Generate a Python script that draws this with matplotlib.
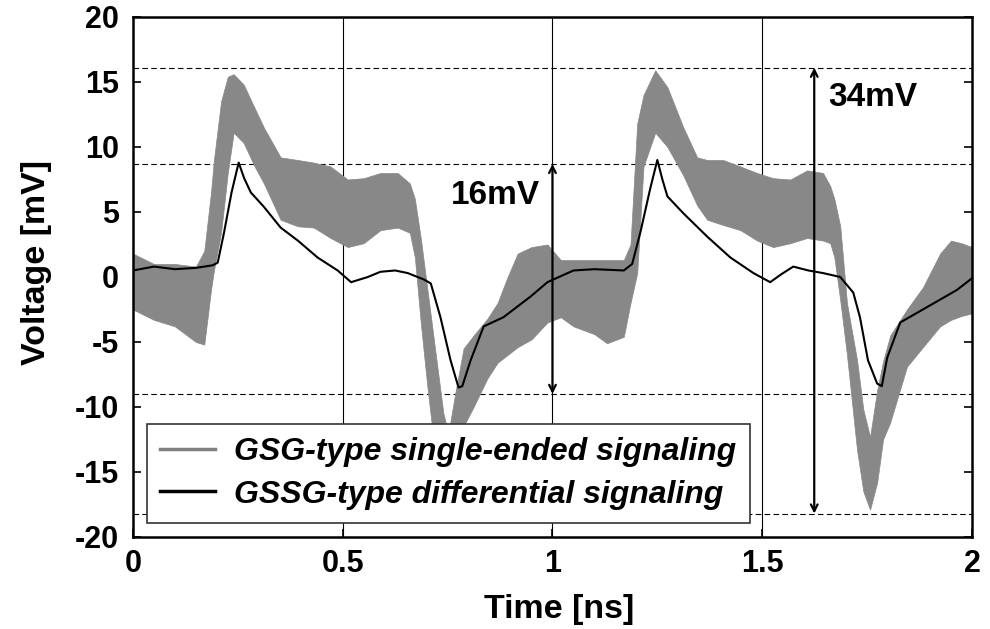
import matplotlib
matplotlib.use("Agg")
import matplotlib.pyplot as plt
from matplotlib.lines import Line2D
import numpy as np

plt.rcParams['font.family'] = ['Liberation Sans', 'DejaVu Sans']
plt.rcParams['font.weight'] = 'bold'
plt.rcParams['axes.unicode_minus'] = False

# GSG-type single-ended signaling: envelope of the ringing band (mV)
t_gsg = [0.000, 0.050, 0.100, 0.150, 0.170, 0.186, 0.193, 0.210, 0.226, 0.240,
         0.264, 0.290, 0.312, 0.352, 0.393, 0.431, 0.471, 0.512, 0.550, 0.590,
         0.631, 0.660, 0.672, 0.686, 0.702, 0.720, 0.740, 0.752, 0.768, 0.788,
         0.812, 0.845, 0.869, 0.893, 0.917, 0.950, 0.988, 1.020, 1.050, 1.100,
         1.130, 1.170, 1.186, 1.202, 1.217, 1.245, 1.274, 1.312, 1.345, 1.369,
         1.407, 1.448, 1.488, 1.526, 1.567, 1.607, 1.645, 1.662, 1.672, 1.686,
         1.702, 1.726, 1.741, 1.757, 1.774, 1.788, 1.805, 1.845, 1.883, 1.924,
         1.950, 1.975, 2.000]
gsg_upper = [1.8, 1.0, 1.0, 0.8, 2.0, 6.5, 9.0, 13.5, 15.4, 15.6,
             14.8, 13.0, 11.5, 9.2, 9.0, 8.8, 8.5, 7.5, 7.6, 8.0,
             8.0, 7.2, 6.0, 3.0, -1.0, -5.5, -10.5, -12.0, -9.0, -5.5,
             -4.5, -3.2, -2.0, 0.0, 1.8, 2.3, 2.5, 1.3, 1.3, 1.3,
             1.3, 1.3, 2.5, 11.8, 14.0, 15.9, 14.6, 11.5, 9.2, 9.0,
             9.0, 8.5, 8.0, 7.6, 7.5, 8.2, 8.0, 7.0, 6.0, 3.9,
             -2.0, -6.4, -10.2, -12.3, -8.7, -6.5, -4.5, -2.5, -0.8, 1.8,
             2.8, 2.6, 2.3]
gsg_lower = [-2.5, -3.3, -3.8, -5.0, -5.2, -1.0, 0.5, 3.4, 8.0, 11.1,
             10.3, 8.5, 7.2, 4.4, 3.9, 3.8, 3.0, 2.3, 2.6, 3.6,
             3.8, 3.4, 1.5, -3.5, -8.5, -13.5, -17.5, -17.8, -15.5, -11.5,
             -10.0, -7.8, -6.6, -6.0, -5.4, -4.8, -3.5, -3.1, -3.8, -4.4,
             -5.1, -4.6, -2.0, 0.3, 8.5, 11.1, 10.0, 7.8, 5.5, 4.4,
             4.0, 3.6, 2.8, 2.3, 2.6, 3.0, 2.8, 2.6, 1.5, -1.8,
             -6.0, -13.3, -16.5, -17.9, -15.8, -12.5, -11.2, -6.9, -5.4, -3.8,
             -3.3, -3.0, -2.8]

# GSSG-type differential signaling (mV)
t_gssg = [0, 0.05, 0.1, 0.15, 0.19, 0.202, 0.217, 0.235, 0.252, 0.265,
          0.281, 0.312, 0.352, 0.393, 0.44, 0.488, 0.52, 0.56, 0.59, 0.625,
          0.655, 0.694, 0.71, 0.733, 0.757, 0.776, 0.785, 0.805, 0.836, 0.883,
          0.948, 0.988, 1.05, 1.1, 1.17, 1.19, 1.21, 1.233, 1.25, 1.262,
          1.274, 1.312, 1.369, 1.424, 1.479, 1.519, 1.545, 1.574, 1.61, 1.645,
          1.686, 1.717, 1.733, 1.752, 1.774, 1.785, 1.798, 1.829, 1.883, 1.964, 2.0]
gssg = [0.5, 0.8, 0.6, 0.7, 0.9, 1.1, 3.4, 6.5, 8.8, 7.6,
        6.5, 5.4, 3.8, 2.8, 1.5, 0.5, -0.4, 0.0, 0.4, 0.5,
        0.3, -0.2, -0.5, -3.1, -6.4, -8.5, -8.4, -6.4, -3.8, -3.1,
        -1.5, -0.4, 0.5, 0.6, 0.5, 1.0, 3.5, 6.8, 9.0, 7.5,
        6.2, 4.9, 3.1, 1.5, 0.3, -0.4, 0.2, 0.8, 0.5, 0.3,
        0.0, -1.2, -3.1, -6.4, -8.2, -8.4, -6.2, -3.5, -2.5, -1.0, -0.1]

ref_levels = [16.1, 8.7, -9.0, -18.2]
xticks = [0, 0.5, 1, 1.5, 2]
xticklabels = ['0', '0.5', '1', '1.5', '2']
yticks = [-20, -15, -10, -5, 0, 5, 10, 15, 20]

fig = plt.figure(figsize=(9.9, 6.29), dpi=100)
ax = fig.add_axes([0.1343, 0.1463, 0.8475, 0.8267])

for xv in [0.5, 1.0, 1.5]:
    ax.axvline(xv, color='black', lw=0.8, zorder=1)
for yv in ref_levels:
    ax.axhline(yv, color='black', lw=0.8, ls=(0, (5, 3)), zorder=1)

ax.fill_between(t_gsg, gsg_lower, gsg_upper, color='#888888', lw=0.5, zorder=2)
ax.plot(t_gssg, gssg, color='black', lw=1.5, zorder=3)

# peak-to-peak arrows
ax.annotate('', xy=(1.0, ref_levels[1]), xytext=(1.0, ref_levels[2]),
            arrowprops=dict(arrowstyle='<->', lw=1.6, color='black', mutation_scale=12,
                            shrinkA=0, shrinkB=0), zorder=4)
ax.annotate('', xy=(1.624, ref_levels[0]), xytext=(1.624, ref_levels[3]),
            arrowprops=dict(arrowstyle='<->', lw=1.6, color='black', mutation_scale=12,
                            shrinkA=0, shrinkB=0), zorder=4)
ax.text(0.864, 6.3, '16mV', fontsize=24, fontweight='bold', ha='center', va='center')
ax.text(1.764, 13.8, '34mV', fontsize=24, fontweight='bold', ha='center', va='center')

ax.set_xlim(0, 2)
ax.set_ylim(-20, 20)
ax.set_xticks(xticks)
ax.set_xticklabels(xticklabels)
ax.set_yticks(yticks)
ax.tick_params(axis='both', direction='in', labelsize=22, width=1.2, length=6)
ax.tick_params(axis='x', pad=9)
ax.tick_params(axis='y', pad=10, right=True)
for s in ax.spines.values():
    s.set_linewidth(1.8)

ax.set_xlabel('Time [ns]', fontsize=24.5, fontweight='bold')
ax.set_ylabel('Voltage [mV]', fontsize=24.5, fontweight='bold')
ax.xaxis.set_label_coords(0.508, -0.11)
ax.yaxis.set_label_coords(-0.097, 0.527)

handles = [Line2D([], [], color='#808080', lw=2.5),
           Line2D([], [], color='black', lw=2.5)]
labels = ['GSG-type single-ended signaling', 'GSSG-type differential signaling']
leg = ax.legend(handles, labels, loc='lower left', bbox_to_anchor=(0.0167, 0.027),
                borderaxespad=0, fancybox=False, framealpha=1, edgecolor='#333333',
                prop=dict(size=23, weight='bold', style='italic'),
                handlelength=1.7, handletextpad=0.62, labelspacing=0.38,
                borderpad=0.42)
leg.get_frame().set_linewidth(1.2)
leg.set_zorder(5)

fig.savefig('out.png', dpi=100)
